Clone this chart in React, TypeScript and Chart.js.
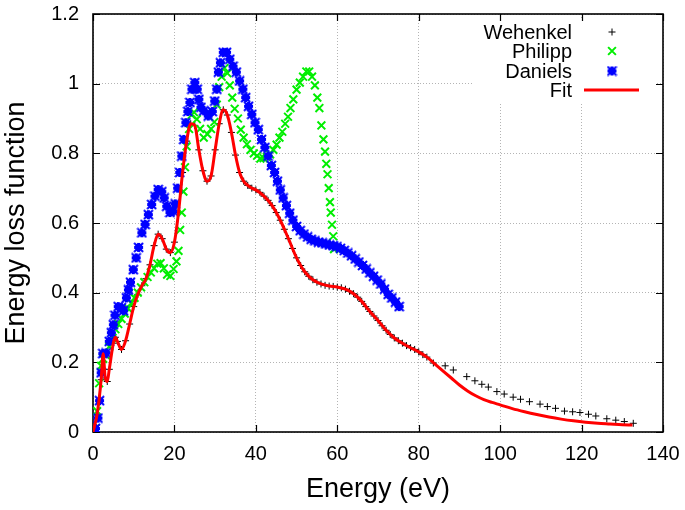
import React, { useEffect, useRef } from 'react';
import { Chart, registerables } from 'chart.js';

Chart.register(...registerables);

// ---------- data ----------
const xTicks = [0, 20, 40, 60, 80, 100, 120, 140];
const yTicks = [0, 0.2, 0.4, 0.6, 0.8, 1.0, 1.2];

const wehenkelX = [
  0, 1, 2, 2.5, 3, 3.5, 4, 5, 5.5, 6, 7, 8, 9, 10, 11, 12, 13, 14, 15, 16, 17, 18, 19, 20,
  21, 22, 23, 24, 25, 26, 27, 28, 29, 30, 31, 32, 33, 34, 35, 36, 37, 38, 39, 40,
  41, 42, 43, 44, 45, 46, 47, 48, 49, 50, 51, 52, 53, 54, 55, 56, 57, 58, 59, 60,
  61, 62, 63, 64, 65, 66, 67, 68, 69, 70, 71, 72, 73, 74, 75, 76, 77, 78, 79, 80, 81, 82,
  83.6, 86.5, 88.5, 91.8, 93.8, 95.5, 97.1, 99.2, 101, 103.2, 105, 107.2, 109.8, 111.6,
  113.6, 115.8, 117.8, 119.6, 121.7, 123.5, 126.2, 128.4, 130.5, 132.7,
];
const wehenkelY = [
  0, 0.05, 0.15, 0.225, 0.155, 0.145, 0.18, 0.255, 0.272, 0.26, 0.237, 0.262, 0.31, 0.36, 0.395, 0.42, 0.44, 0.48, 0.535, 0.568, 0.555, 0.525, 0.515, 0.545,
  0.63, 0.745, 0.835, 0.885, 0.88, 0.81, 0.75, 0.72, 0.735, 0.81, 0.885, 0.925, 0.91, 0.86, 0.795, 0.745, 0.72, 0.708, 0.7, 0.695,
  0.688, 0.677, 0.665, 0.65, 0.63, 0.608, 0.582, 0.555, 0.527, 0.5, 0.478, 0.46, 0.447, 0.437, 0.43, 0.425, 0.421, 0.419, 0.418, 0.416,
  0.414, 0.41, 0.404, 0.397, 0.387, 0.375, 0.36, 0.346, 0.333, 0.32, 0.305, 0.292, 0.28, 0.27, 0.262, 0.255, 0.248, 0.242, 0.237, 0.23, 0.222, 0.215,
  0.198, 0.19, 0.178, 0.159, 0.147, 0.137, 0.129, 0.116, 0.109, 0.1, 0.094, 0.087, 0.08, 0.073,
  0.068, 0.06, 0.058, 0.056, 0.051, 0.046, 0.038, 0.034, 0.03, 0.025,
];

const philippX = [
  0, 0.5, 1, 1.5, 2, 2.5, 3.2, 4, 4.8, 5.5, 6.2, 7, 7.8, 8.6, 9.4, 10.2, 11, 11.8, 12.6, 13.4, 14.2, 15, 15.8,
  16.6, 17.4, 18.2, 19, 19.8, 20.5, 21, 21.4, 21.8, 22.2, 22.6, 23, 23.6, 24.2, 24.8, 25.5, 26.3, 27.2, 28.1,
  29, 29.8, 30.4, 31, 31.6, 32.3, 33, 33.6, 34.2, 34.8, 35.6, 36.3, 37, 37.8, 38.7, 39.5, 40.3, 41.1, 41.9,
  42.7, 43.5, 44.3, 45.1, 45.8, 46.5, 47.2, 47.9, 48.5, 49.2, 50, 50.8, 51.6, 52.4, 53.1, 53.8, 54.5, 55.1,
  55.6, 56.1, 56.6, 57, 57.3, 57.6, 57.9, 58.2, 58.4, 58.7, 59, 59.2,
];
const philippY = [
  0, 0.01, 0.06, 0.14, 0.19, 0.21, 0.22, 0.245, 0.27, 0.295, 0.31, 0.325, 0.34, 0.355, 0.37, 0.385, 0.4, 0.415, 0.43, 0.445, 0.458, 0.47, 0.483,
  0.485, 0.47, 0.452, 0.448, 0.468, 0.49, 0.52, 0.58, 0.63, 0.69, 0.76, 0.82, 0.87, 0.91, 0.918, 0.898, 0.87, 0.845, 0.855,
  0.87, 0.89, 0.94, 0.99, 1.02, 1.045, 1.03, 0.995, 0.96, 0.928, 0.9, 0.868, 0.845, 0.826, 0.81, 0.8, 0.793, 0.785, 0.786,
  0.79, 0.797, 0.81, 0.825, 0.845, 0.862, 0.885, 0.905, 0.93, 0.955, 0.983, 1.003, 1.02, 1.035, 1.035, 1.02, 0.995, 0.96,
  0.93, 0.88, 0.84, 0.805, 0.77, 0.74, 0.7, 0.66, 0.63, 0.595, 0.562, 0.525,
];

const danielsX = [
  0.6, 1.2, 1.6, 2, 2.4, 3.2, 4, 4.5, 5, 5.4, 6.2, 7, 7.5, 8.2, 8.7, 9.2, 9.9, 10.6, 11.2, 12, 12.8, 13.6, 14.4,
  15.2, 16, 16.9, 17.5, 18.1, 18.9, 19.7, 20.2, 20.8, 21.3, 21.8, 22.3, 22.8, 23.3, 23.8, 24.3, 25, 25.6, 26,
  26.5, 27.2, 28.3, 29.3, 29.9, 30.4, 30.8, 31.3, 32, 32.8, 33.6, 34.4, 35.2, 36, 36.8, 37.5, 38.2, 39, 39.8,
  40.6, 41.4, 42.2, 43, 43.8, 44.6, 45.3, 46, 46.7, 47.5, 48.3, 49.1, 50, 50.9, 51.8, 52.7, 53.6, 54.5, 55.4,
  56.3, 57.2, 58.1, 59, 59.9, 60.8, 61.7, 62.6, 63.5, 64.4, 65.3, 66.2, 67.1, 68, 68.9, 69.8, 70.7, 71.6, 72.5,
  73.4, 74.3, 75.2,
];
const danielsY = [
  0.01, 0.04, 0.09, 0.17, 0.225, 0.227, 0.26, 0.285, 0.308, 0.335, 0.36, 0.357, 0.348, 0.385, 0.408, 0.43, 0.466, 0.5, 0.53, 0.572, 0.596, 0.624, 0.653,
  0.677, 0.696, 0.69, 0.672, 0.648, 0.63, 0.634, 0.655, 0.7, 0.745, 0.792, 0.84, 0.888, 0.92, 0.946, 0.984, 1.003, 0.984, 0.955,
  0.932, 0.922, 0.907, 0.92, 0.95, 0.984, 1.033, 1.06, 1.09, 1.09, 1.07, 1.05, 1.033, 1.008, 0.984, 0.96, 0.935, 0.912, 0.888,
  0.868, 0.84, 0.817, 0.792, 0.765, 0.745, 0.72, 0.695, 0.672, 0.65, 0.628, 0.608, 0.59, 0.578, 0.568, 0.56, 0.553, 0.549, 0.545,
  0.543, 0.54, 0.537, 0.535, 0.532, 0.527, 0.521, 0.514, 0.506, 0.497, 0.488, 0.478, 0.468, 0.457, 0.447, 0.436, 0.425, 0.41, 0.395,
  0.385, 0.373, 0.36,
];

const fitX = [
  0, 1, 2, 2.5, 3, 3.5, 4, 5, 5.5, 6, 7, 8, 9, 10, 11, 12, 13, 14, 15, 16, 17, 18, 19, 20,
  21, 22, 23, 24, 25, 26, 27, 28, 29, 30, 31, 32, 33, 34, 35, 36, 37, 38, 39, 40,
  42, 44, 46, 48, 50, 52, 54, 56, 58, 60, 62, 64, 66, 68, 70, 72, 74, 76, 78, 80, 82,
  84, 86, 88, 90, 92, 94, 96, 98, 100, 103, 106, 109, 112, 115, 118, 121, 124, 127, 130, 132.5,
];
const fitY = [
  0, 0.05, 0.15, 0.225, 0.155, 0.145, 0.18, 0.255, 0.272, 0.26, 0.237, 0.262, 0.31, 0.36, 0.395, 0.42, 0.44, 0.48, 0.535, 0.568, 0.555, 0.525, 0.515, 0.545,
  0.63, 0.745, 0.835, 0.885, 0.88, 0.81, 0.75, 0.72, 0.735, 0.81, 0.885, 0.925, 0.91, 0.86, 0.795, 0.745, 0.72, 0.708, 0.7, 0.695,
  0.677, 0.65, 0.608, 0.555, 0.5, 0.46, 0.437, 0.425, 0.419, 0.416, 0.41, 0.397, 0.375, 0.346, 0.32, 0.292, 0.27, 0.255, 0.242, 0.23, 0.215,
  0.195, 0.175, 0.155, 0.135, 0.118, 0.104, 0.093, 0.085, 0.078, 0.067, 0.058, 0.05, 0.043, 0.037, 0.032, 0.028, 0.025, 0.023, 0.021, 0.02,
];

const seriesNames = ['Wehenkel', 'Philipp', 'Daniels', 'Fit'];
const FONT = '"Liberation Sans", Arial, Helvetica, sans-serif';
const GREEN = '#00ee00';
const BLUE = '#0000ff';
const RED = '#ff0000';

function pts(xs: number[], ys: number[]) {
  return xs.map((x, i) => ({ x, y: ys[i] }));
}

function drawMarker(ctx: CanvasRenderingContext2D, kind: string, x: number, y: number, r: number) {
  ctx.beginPath();
  if (kind === 'cross' || kind === 'star') {
    ctx.moveTo(x - r, y); ctx.lineTo(x + r, y);
    ctx.moveTo(x, y - r); ctx.lineTo(x, y + r);
  }
  if (kind === 'crossRot' || kind === 'star') {
    const d = r * Math.SQRT1_2;
    ctx.moveTo(x - d, y - d); ctx.lineTo(x + d, y + d);
    ctx.moveTo(x - d, y + d); ctx.lineTo(x + d, y - d);
  }
  ctx.stroke();
}

// gnuplot-like thick asterisk marker (blue, blocky)
function makeBlobMarker(color: string): HTMLCanvasElement {
  const c = document.createElement('canvas');
  c.width = 11; c.height = 11;
  const g = c.getContext('2d')!;
  g.fillStyle = color;
  g.fillRect(2, 2, 7, 7);
  g.fillRect(1, 4, 9, 3);
  g.fillRect(4, 1, 3, 9);
  g.strokeStyle = color;
  g.lineWidth = 2;
  g.beginPath();
  g.moveTo(1, 1); g.lineTo(10, 10);
  g.moveTo(1, 10); g.lineTo(10, 1);
  g.stroke();
  return c;
}

export default function App() {
  const ref = useRef<HTMLCanvasElement>(null);

  useEffect(() => {
    document.body.style.margin = '0';
    if (!ref.current) return;
    const blob = makeBlobMarker(BLUE);

    const framePlugin = {
      id: 'gnuframe',
      beforeDatasetsDraw(chart: any) {
        const { ctx, chartArea: a, scales } = chart;
        ctx.save();
        // legend background (hides grid behind the key)
        ctx.fillStyle = '#ffffff';
        ctx.fillRect(a.right - 190, a.top + 6, 184, 82);
        // inward ticks on all four sides
        ctx.strokeStyle = '#000';
        ctx.lineWidth = 1.2;
        const L = 7;
        ctx.beginPath();
        for (const v of xTicks) {
          const px = Math.round(scales.x.getPixelForValue(v)) + 0.5;
          ctx.moveTo(px, a.bottom); ctx.lineTo(px, a.bottom - L);
          ctx.moveTo(px, a.top); ctx.lineTo(px, a.top + L);
        }
        for (const v of yTicks) {
          const py = Math.round(scales.y.getPixelForValue(v)) + 0.5;
          ctx.moveTo(a.left, py); ctx.lineTo(a.left + L, py);
          ctx.moveTo(a.right, py); ctx.lineTo(a.right - L, py);
        }
        ctx.stroke();
        // frame
        ctx.lineWidth = 1.6;
        ctx.strokeRect(a.left, a.top, a.right - a.left, a.bottom - a.top);
        ctx.restore();
      },
      afterDatasetsDraw(chart: any) {
        const { ctx, chartArea: a } = chart;
        ctx.save();
        ctx.font = `20px ${FONT}`;
        ctx.fillStyle = '#000';
        ctx.textAlign = 'right';
        ctx.textBaseline = 'middle';
        const textX = a.right - 91;
        const symX = a.right - 51;
        const rows = [a.top + 18, a.top + 37, a.top + 57, a.top + 76];
        seriesNames.forEach((n, i) => ctx.fillText(n, textX, rows[i] + 1));
        ctx.strokeStyle = '#000'; ctx.lineWidth = 1;
        drawMarker(ctx, 'cross', symX, rows[0], 3.5);
        ctx.strokeStyle = GREEN; ctx.lineWidth = 2;
        drawMarker(ctx, 'crossRot', symX, rows[1], 5.5);
        ctx.drawImage(blob, symX - 5.5, rows[2] - 5.5);
        ctx.strokeStyle = RED; ctx.lineWidth = 3;
        ctx.beginPath();
        ctx.moveTo(a.right - 79, rows[3]); ctx.lineTo(a.right - 24, rows[3]);
        ctx.stroke();
        ctx.restore();
      },
    };

    const chart = new Chart(ref.current, {
      type: 'scatter',
      data: {
        datasets: [
          {
            label: seriesNames[0],
            data: pts(wehenkelX, wehenkelY),
            pointStyle: 'cross',
            pointRadius: 3.5,
            borderWidth: 1,
            borderColor: '#000',
            backgroundColor: '#000',
            order: 3,
          },
          {
            label: seriesNames[1],
            data: pts(philippX, philippY),
            pointStyle: 'crossRot',
            pointRadius: 5.5,
            borderWidth: 2,
            borderColor: GREEN,
            backgroundColor: GREEN,
            order: 2,
          },
          {
            label: seriesNames[2],
            data: pts(danielsX, danielsY),
            pointStyle: blob,
            pointRadius: 5,
            borderColor: BLUE,
            backgroundColor: BLUE,
            order: 1,
          },
          {
            label: seriesNames[3],
            data: pts(fitX, fitY),
            showLine: true,
            pointRadius: 0,
            borderWidth: 3,
            borderColor: RED,
            backgroundColor: RED,
            cubicInterpolationMode: 'monotone',
            order: 0,
          } as any,
        ],
      },
      options: {
        responsive: false,
        animation: false,
        devicePixelRatio: 1,
        layout: { padding: { top: 14, right: 22, left: 0, bottom: 0 } },
        plugins: { legend: { display: false }, tooltip: { enabled: false } },
        scales: {
          x: {
            type: 'linear',
            min: 0,
            max: 140,
            afterBuildTicks: (s: any) => { s.ticks = xTicks.map((v) => ({ value: v })); },
            afterFit: (s: any) => {
              s.height = 78;
              s.paddingLeft = 0; s.paddingRight = 0;
            },
            ticks: { font: { size: 20, family: FONT }, color: '#000', padding: 10, maxRotation: 0 },
            grid: { color: '#b4b4b4', lineWidth: 1, drawTicks: false },
            border: { display: false, dash: [1, 2] },
            title: {
              display: true,
              text: 'Energy (eV)',
              color: '#000',
              font: { size: 27, family: FONT },
              padding: { top: 0, bottom: 4 },
            },
          },
          y: {
            type: 'linear',
            min: 0,
            max: 1.2,
            afterBuildTicks: (s: any) => { s.ticks = yTicks.map((v) => ({ value: v })); },
            afterFit: (s: any) => {
              s.width = 93;
              s.paddingTop = 0; s.paddingBottom = 0;
            },
            ticks: {
              font: { size: 20, family: FONT },
              color: '#000',
              padding: 14,
              callback: (v: any) => String(Math.round(Number(v) * 10) / 10),
            },
            grid: { color: '#b4b4b4', lineWidth: 1, drawTicks: false },
            border: { display: false, dash: [1, 2] },
            title: {
              display: true,
              text: 'Energy loss function',
              color: '#000',
              font: { size: 27, family: FONT },
              padding: { top: 0, bottom: 0 },
            },
          },
        },
      },
      plugins: [framePlugin],
    } as any);

    return () => chart.destroy();
  }, []);

  return (
    <div style={{ width: 685, height: 510 }}>
      <canvas ref={ref} width={685} height={510} style={{ display: 'block', width: 685, height: 510 }} />
    </div>
  );
}
